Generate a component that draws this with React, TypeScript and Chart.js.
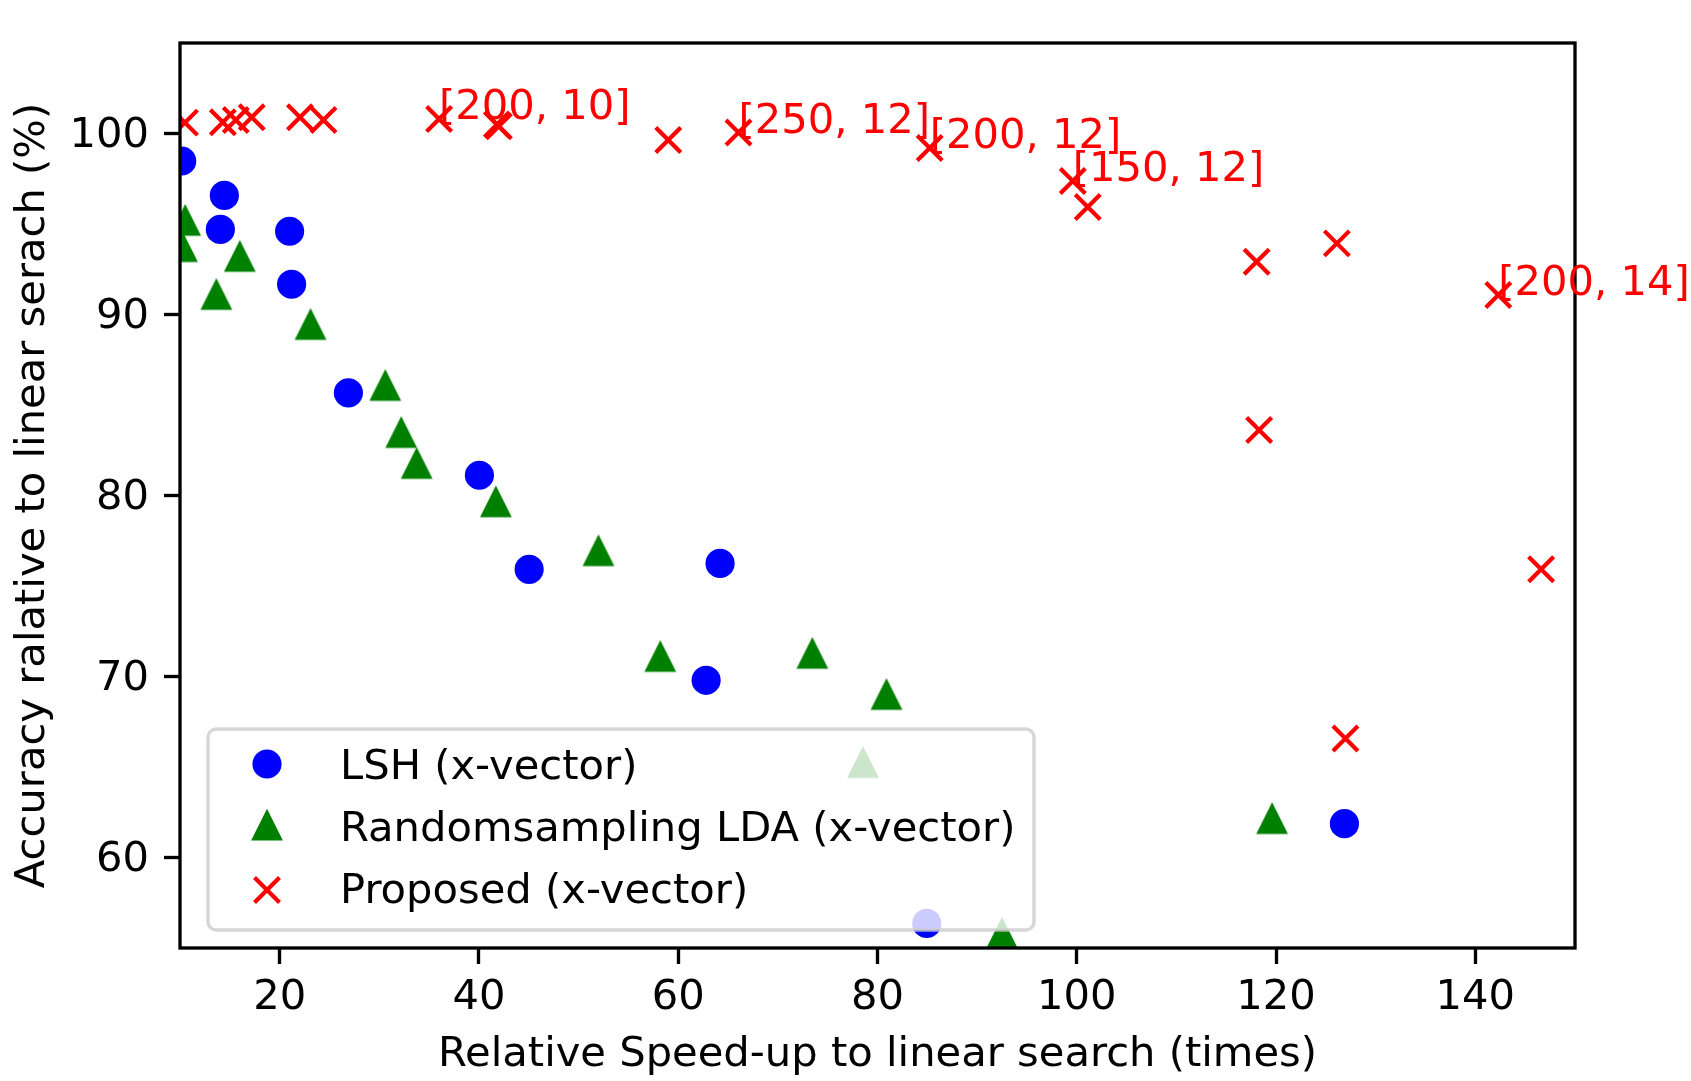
import React, { useEffect, useRef } from 'react';
import { Chart, registerables } from 'chart.js';

Chart.register(...registerables);

// ---------------- data ----------------
const xTicks = [20, 40, 60, 80, 100, 120, 140];
const yTicks = [60, 70, 80, 90, 100];

const seriesNames = ['LSH (x-vector)', 'Randomsampling LDA (x-vector)', 'Proposed (x-vector)'];

const lshX = [10.17, 14.45, 14.05, 21.0, 21.2, 26.9, 40.05, 45.04, 64.2, 62.8, 84.94, 126.86];
const lshY = [98.48, 96.58, 94.7, 94.6, 91.67, 85.67, 81.12, 75.92, 76.25, 69.79, 56.36, 61.87];

const rsX = [10.52, 10.2, 16.0, 13.65, 23.1, 30.6, 32.2, 33.75, 41.7, 52.0, 58.2, 73.46, 80.9, 78.54, 92.5, 119.6];
const rsY = [95.15, 93.7, 93.16, 91.06, 89.4, 86.03, 83.43, 81.72, 79.6, 76.9, 71.06, 71.23, 68.96, 65.2, 55.77, 62.1];

const propX = [10.5, 14.3, 15.6, 17.2, 22.04, 24.4, 36.0, 41.8, 42.0, 59.0, 66.05, 85.24, 99.6, 101.1, 118.05, 126.1, 142.3, 118.3, 146.6, 126.96];
const propY = [100.6, 100.62, 100.75, 100.9, 100.9, 100.75, 100.8, 100.5, 100.4, 99.64, 100.05, 99.2, 97.37, 95.94, 92.92, 93.93, 91.08, 83.62, 75.92, 66.58];

const annText = ['[200, 10]', '[250, 12]', '[200, 12]', '[150, 12]', '[200, 14]'];
const annIdx = [6, 10, 11, 12, 16];

const xTitle = 'Relative Speed-up to linear search (times)';
const yTitle = 'Accuracy ralative to linear serach (%)';

// ---------------- styles ----------------
const W = 1691;
const H = 1081;
const FAMILY = '"DejaVu Sans", "Liberation Sans", sans-serif';
const FS = 41.67;
const BLUE = '#0000ff';
const GREEN = '#008000';
const RED = '#ff0000';
const MS = 12.5; // half marker size
const MLW = 4.2; // marker edge width

function makeTriangle(color: string): HTMLCanvasElement {
  const c = document.createElement('canvas');
  c.width = 40;
  c.height = 40;
  const g = c.getContext('2d')!;
  g.fillStyle = color;
  g.strokeStyle = color;
  g.lineWidth = MLW;
  g.lineJoin = 'miter';
  g.beginPath();
  g.moveTo(20, 20 - MS);
  g.lineTo(20 - MS, 20 + MS);
  g.lineTo(20 + MS, 20 + MS);
  g.closePath();
  g.fill();
  g.stroke();
  return c;
}

export default function App() {
  const ref = useRef<HTMLCanvasElement | null>(null);

  useEffect(() => {
    if (!ref.current) return;
    const tri = makeTriangle(GREEN);

    const overlay = {
      id: 'overlay',
      afterDatasetsDraw(chart: any) {
        const { ctx, chartArea: a, scales } = chart;
        ctx.save();
        // frame (spines)
        ctx.strokeStyle = '#000';
        ctx.lineWidth = 3.33;
        ctx.strokeRect(a.left, a.top, a.right - a.left, a.bottom - a.top);

        // annotations
        ctx.fillStyle = RED;
        ctx.font = `${FS}px ${FAMILY}`;
        ctx.textAlign = 'left';
        ctx.textBaseline = 'alphabetic';
        annIdx.forEach((i, k) => {
          ctx.fillText(annText[k], scales.x.getPixelForValue(propX[i]), scales.y.getPixelForValue(propY[i]));
        });

        // legend
        const lx = a.left + 28;
        const lr = a.left + 854;
        const lb = a.bottom - 18;
        const lt = lb - 201;
        ctx.beginPath();
        (ctx as any).roundRect(lx, lt, lr - lx, lb - lt, 8.3);
        ctx.fillStyle = 'rgba(255,255,255,0.8)';
        ctx.fill();
        ctx.strokeStyle = 'rgba(204,204,204,0.8)';
        ctx.lineWidth = 3.33;
        ctx.stroke();

        const mx = lx + 59;
        const rows = [lt + 35, lt + 97, lt + 161];
        const bases = [lt + 49.5, lt + 111.5, lt + 173.5];
        // circle
        ctx.beginPath();
        ctx.arc(mx, rows[0], MS, 0, Math.PI * 2);
        ctx.fillStyle = BLUE;
        ctx.strokeStyle = BLUE;
        ctx.lineWidth = MLW;
        ctx.fill();
        ctx.stroke();
        // triangle
        ctx.drawImage(tri, mx - 20, rows[1] - 20);
        // cross
        ctx.beginPath();
        ctx.strokeStyle = RED;
        ctx.lineWidth = MLW;
        ctx.moveTo(mx - MS, rows[2] - MS);
        ctx.lineTo(mx + MS, rows[2] + MS);
        ctx.moveTo(mx + MS, rows[2] - MS);
        ctx.lineTo(mx - MS, rows[2] + MS);
        ctx.stroke();

        ctx.fillStyle = '#000';
        ctx.font = `${FS}px ${FAMILY}`;
        ctx.textAlign = 'left';
        ctx.textBaseline = 'alphabetic';
        seriesNames.forEach((n, k) => ctx.fillText(n, lx + 132, bases[k]));
        ctx.restore();
      },
    };

    const tickFont = { family: FAMILY, size: FS, lineHeight: 1.2 };

    const chart = new Chart(ref.current, {
      type: 'scatter',
      data: {
        datasets: [
          {
            label: seriesNames[0],
            data: lshX.map((x, i) => ({ x, y: lshY[i] })),
            pointStyle: 'circle',
            pointRadius: MS,
            pointBorderWidth: MLW,
            backgroundColor: BLUE,
            borderColor: BLUE,
            clip: 0,
            order: 2,
          },
          {
            label: seriesNames[1],
            data: rsX.map((x, i) => ({ x, y: rsY[i] })),
            pointStyle: tri,
            pointRadius: 15,
            backgroundColor: GREEN,
            borderColor: GREEN,
            clip: 0,
            order: 1,
          },
          {
            label: seriesNames[2],
            data: propX.map((x, i) => ({ x, y: propY[i] })),
            pointStyle: 'crossRot',
            pointRadius: MS / Math.SQRT1_2,
            pointBorderWidth: MLW,
            backgroundColor: RED,
            borderColor: RED,
            clip: 0,
            order: 0,
          },
        ],
      } as any,
      options: {
        responsive: false,
        animation: false,
        devicePixelRatio: 1,
        events: [],
        layout: { padding: { top: 43, right: 116, bottom: 0, left: 0 } },
        plugins: {
          legend: { display: false },
          tooltip: { enabled: false },
        },
        scales: {
          x: {
            type: 'linear',
            min: 10,
            max: 150,
            afterBuildTicks: (s: any) => {
              s.ticks = xTicks.map((v) => ({ value: v }));
            },
            afterFit: (s: any) => {
              s.height = 133;
            },
            border: { display: false },
            grid: {
              drawOnChartArea: false,
              drawTicks: true,
              tickLength: 16,
              tickWidth: 3.33,
              tickColor: '#000',
            },
            ticks: {
              color: '#000',
              font: tickFont,
              padding: 9,
              maxRotation: 0,
              autoSkip: false,
              callback: (v: any) => String(v),
            },
            title: {
              display: true,
              text: xTitle,
              color: '#000',
              font: { family: FAMILY, size: FS, lineHeight: 1.0 },
              padding: { top: 0, bottom: 4.5 },
            },
          },
          y: {
            type: 'linear',
            min: 55,
            max: 105,
            afterBuildTicks: (s: any) => {
              s.ticks = yTicks.map((v) => ({ value: v }));
            },
            afterFit: (s: any) => {
              s.width = 180;
            },
            border: { display: false },
            grid: {
              drawOnChartArea: false,
              drawTicks: true,
              tickLength: 16,
              tickWidth: 3.33,
              tickColor: '#000',
            },
            ticks: {
              color: '#000',
              font: tickFont,
              padding: 15,
              labelOffset: 3,
              autoSkip: false,
              callback: (v: any) => String(v),
            },
            title: {
              display: true,
              text: yTitle,
              color: '#000',
              font: { family: FAMILY, size: FS, lineHeight: 1.2 },
              padding: { top: 8.6, bottom: 0 },
            },
          },
        },
      } as any,
      plugins: [overlay],
    });

    return () => chart.destroy();
  }, []);

  return (
    <div style={{ position: 'absolute', left: 0, top: 0, width: W, height: H, background: '#fff' }}>
      <canvas ref={ref} width={W} height={H} style={{ display: 'block', width: W, height: H }} />
    </div>
  );
}
